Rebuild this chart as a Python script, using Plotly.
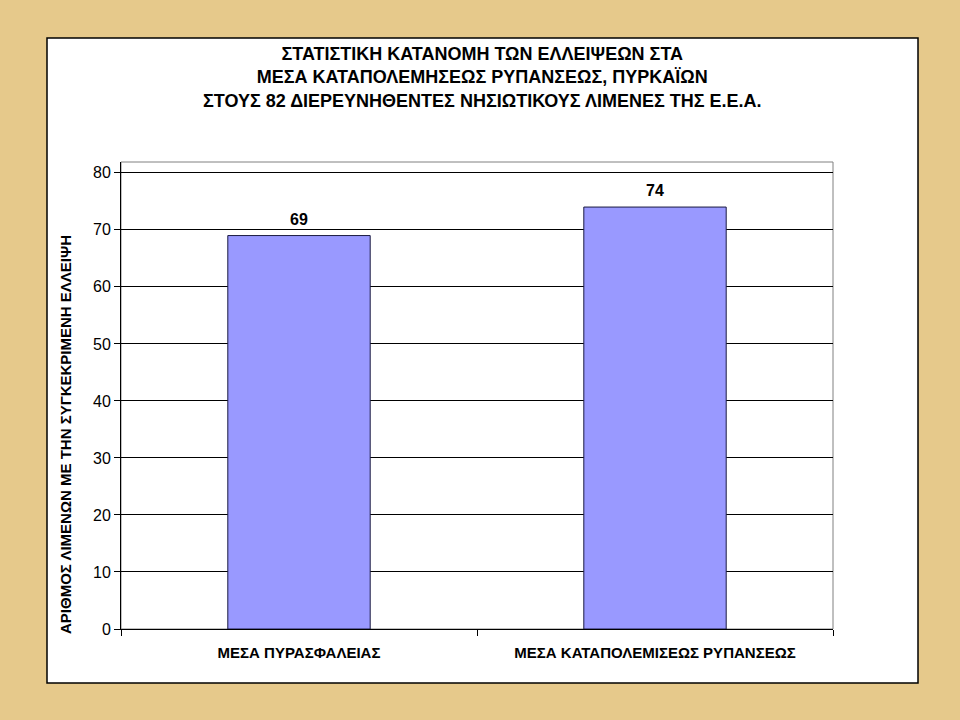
import plotly.graph_objects as go

categories = ["ΜΕΣΑ ΠΥΡΑΣΦΑΛΕΙΑΣ", "ΜΕΣΑ ΚΑΤΑΠΟΛΕΜΙΣΕΩΣ ΡΥΠΑΝΣΕΩΣ"]
values = [69, 74]
y_ticks = [0, 10, 20, 30, 40, 50, 60, 70, 80]

title_lines = [
    "ΣΤΑΤΙΣΤΙΚΗ ΚΑΤΑΝΟΜΗ ΤΩΝ ΕΛΛΕΙΨΕΩΝ ΣΤΑ",
    "ΜΕΣΑ ΚΑΤΑΠΟΛΕΜΗΣΕΩΣ ΡΥΠΑΝΣΕΩΣ, ΠΥΡΚΑΪΩΝ",
    "ΣΤΟΥΣ 82 ΔΙΕΡΕΥΝΗΘΕΝΤΕΣ ΝΗΣΙΩΤΙΚΟΥΣ ΛΙΜΕΝΕΣ ΤΗΣ Ε.Ε.Α.",
]
y_title = "ΑΡΙΘΜΟΣ ΛΙΜΕΝΩΝ ΜΕ ΤΗΝ ΣΥΓΚΕΚΡΙΜΕΝΗ ΕΛΛΕΙΨΗ"

arial = "Liberation Sans, Arial, sans-serif"

# plot area in page pixels
L, R, T, B = 121, 833, 162, 629
PW, PH = R - L, B - T


def px(x):
    return (x - L) / PW


def py(y):
    return (B - y) / PH


fig = go.Figure()
fig.add_trace(go.Bar(
    x=categories, y=values,
    width=0.4,
    marker=dict(color="#9999FF", line=dict(color="#1a1a40", width=1)),
    hoverinfo="skip",
))

# value labels above bars
for c, v in zip(categories, values):
    fig.add_annotation(x=c, y=v, text="<b>%d</b>" % v, showarrow=False,
                       yanchor="bottom", yshift=6,
                       font=dict(family=arial, size=16, color="black"))

fig.add_annotation(text="<b>" + "<br>".join(title_lines) + "</b>",
                   xref="paper", yref="paper", x=px(482), y=py(78),
                   showarrow=False, xanchor="center", yanchor="middle",
                   font=dict(family=arial, size=18, color="black"))
fig.add_annotation(text="<b>" + y_title + "</b>",
                   xref="paper", yref="paper", x=px(65), y=py(435),
                   showarrow=False, textangle=-90,
                   xanchor="center", yanchor="middle",
                   font=dict(family=arial, size=15, color="black"))

fig.update_layout(
    width=960, height=720,
    paper_bgcolor="#E6C98B",
    plot_bgcolor="white",
    margin=dict(l=L, r=960 - R, t=T, b=720 - B),
    showlegend=False,
    shapes=[
        # white chart panel
        dict(type="rect", xref="paper", yref="paper", layer="below",
             x0=px(47), x1=px(918), y0=py(683), y1=py(38),
             fillcolor="white", line=dict(color="black", width=1.5)),
        # plot area border
        dict(type="rect", xref="paper", yref="paper", layer="below",
             x0=0, x1=1, y0=0, y1=1,
             line=dict(color="#808080", width=1)),
    ],
)

fig.update_xaxes(
    showline=True, linecolor="black", linewidth=1,
    ticks="outside", ticklen=6, tickcolor="black", tickson="boundaries",
    ticklabelstandoff=10,
    tickfont=dict(family=arial, size=15, color="black"),
    tickprefix="<b>", ticksuffix="</b>",
    showgrid=False,
)
fig.update_yaxes(
    range=[0, 81.9], tickvals=y_ticks,
    showline=True, linecolor="black", linewidth=1,
    ticks="outside", ticklen=6, tickcolor="black",
    showgrid=True, gridcolor="black", gridwidth=1,
    zeroline=False,
    tickfont=dict(family=arial, size=16, color="black"),
)

fig.write_html("out.html",
               config={"displayModeBar": False},
               post_script="document.body.style.margin='0';"
                           "document.body.style.background='#E6C98B';")
